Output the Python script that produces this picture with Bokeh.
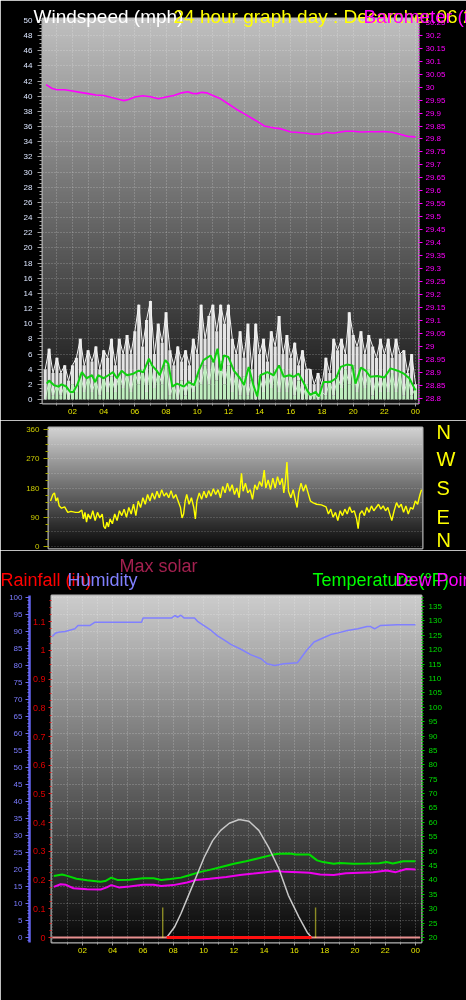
import numpy as np
from bokeh.plotting import figure
from bokeh.models import (Range1d, LinearAxis, SingleIntervalTicker, FixedTicker,
                          Grid, CustomJSTickFormatter)
from bokeh.core.properties import value
from bokeh.embed import file_html
from bokeh.resources import INLINE

FONT = "Liberation Sans"

# ---------------- data ----------------
x_tick_hours = [2, 4, 6, 8, 10, 12, 14, 16, 18, 20, 22, 24]
x_tick_labels = ["02", "04", "06", "08", "10", "12", "14", "16", "18", "20", "22", "00"]
hour_marks = list(range(1, 25))

wind_hours = [round(0.25 * (i + 1), 2) for i in range(96)]
wind_gust = [4, 6.7, 3.5, 5.5, 3.5, 4.5, 2.5, 4.5, 5.5, 8, 4.5, 6.5,
             5, 7, 4, 6.5, 5.5, 8, 4.5, 8, 6, 8.5, 6, 9,
             12.5, 7, 10.5, 13, 6, 10, 7.5, 11.5, 6.5, 4.5, 7, 5,
             6.5, 4.5, 8, 6, 12.5, 8, 11, 12.5, 9, 12.5, 10, 12.5,
             8, 6, 9, 5.5, 10, 4, 10, 6, 8, 5, 9, 7,
             11, 6, 8.5, 5.5, 7.5, 4.5, 6.5, 4, 4, 2, 3.5, 2,
             5.5, 3.5, 8, 6.5, 8, 6, 11.5, 8.5, 7, 9, 6, 8.5,
             7, 5.5, 8, 6, 8, 5.5, 8, 6, 6.5, 3.5, 6, 2]
wind_speed = [0, 2.5, 0.5, 2, 0.5, 2, 0, 2, 1, 3.5, 1, 3,
              1, 2.5, 0.5, 3, 1, 3, 1, 3.5, 1.5, 3.5, 1, 3.5,
              2, 4, 1, 4.5, 1.5, 3.5, 2, 4.5, 0.5, 2, 0, 2.5,
              0.5, 2.5, 1, 3, 2, 4.5, 2, 5, 2.5, 5, 2, 4.5,
              1, 3.5, 0.5, 3, 0.5, 2.5, 0, 3, 1, 3.5, 1.5, 4,
              1, 4, 1, 3.5, 0.5, 2.5, 0, 2, 0, 1, 0, 1,
              0.5, 2.5, 0.5, 3, 1.5, 4, 2, 4.5, 1, 3.5, 1.5, 4,
              0.5, 3, 1, 3, 1, 3.5, 1, 3.5, 0.5, 3, 0.5, 1.5]

avg_hours = [0.35, 0.5, 0.8, 1.1, 1.3, 1.6, 1.85, 2.05, 2.3, 2.6, 2.9, 3.25, 3.45, 3.65,
             4.0, 4.3, 4.6, 4.85, 5.15, 5.5, 5.9, 6.25, 6.55, 6.9, 7.1, 7.4, 7.6, 7.95,
             8.15, 8.4, 8.7, 9.15, 9.45, 9.8, 10.1, 10.4, 10.85, 11.05, 11.3, 11.5, 11.7,
             12.0, 12.35, 12.75, 13.0, 13.3, 13.6, 13.85, 14.05, 14.5, 14.9, 15.25, 15.55,
             15.9, 16.2, 16.5, 16.85, 17.05, 17.25, 17.6, 17.8, 18.1, 18.55, 18.9, 19.2,
             19.6, 19.95, 20.15, 20.5, 20.8, 21.1, 21.55, 22.0, 22.4, 22.85, 23.25, 23.6, 24.0]
avg_mph = [2.1, 2.5, 1.9, 1.7, 2.0, 1.7, 1.0, 1.0, 1.9, 3.6, 2.8, 3.2, 2.3, 3.2,
           2.8, 3.2, 3.6, 2.8, 3.8, 3.2, 3.4, 3.8, 3.6, 5.4, 4.5, 3.8, 3.2, 5.2,
           4.7, 1.7, 2.1, 1.7, 2.3, 1.9, 3.8, 5.2, 5.8, 4.9, 6.7, 3.8, 5.8,
           5.6, 3.8, 2.8, 1.9, 4.3, 1.9, 0.4, 3.2, 3.6, 3.2, 4.5, 3.0,
           3.2, 3.0, 3.4, 2.1, 1.2, 0.6, 1.0, 0.4, 2.3, 2.3, 2.8, 4.3,
           4.6, 4.5, 2.1, 4.2, 3.8, 3.0, 3.1, 2.9, 4.1, 3.8, 3.4, 2.8, 1.2]

pres_hours = [0.3, 0.7, 1.0, 1.5, 2.0, 2.5, 3.0, 3.5, 4.0, 4.5, 5.0, 5.3, 5.6, 6.0, 6.5,
              7.0, 7.5, 8.0, 8.5, 9.0, 9.4, 9.7, 10.0, 10.3, 10.6, 11.0, 11.5, 12.0, 12.5,
              13.0, 13.5, 14.0, 14.3, 14.7, 15.0, 15.3, 15.6, 16.0, 16.5, 17.0, 17.5, 18.0,
              18.3, 18.7, 19.0, 19.5, 20.0, 20.5, 21.0, 21.5, 22.0, 22.5, 23.0, 23.5, 24.0]
pres_inhg = [30.01, 29.995, 29.99, 29.99, 29.985, 29.98, 29.975, 29.97, 29.968, 29.96,
             29.952, 29.948, 29.952, 29.962, 29.967, 29.963, 29.955, 29.962, 29.968, 29.978,
             29.982, 29.976, 29.975, 29.98, 29.978, 29.968, 29.955, 29.935, 29.915, 29.898,
             29.88, 29.862, 29.85, 29.845, 29.842, 29.84, 29.835, 29.827, 29.825, 29.822,
             29.818, 29.82, 29.826, 29.822, 29.825, 29.83, 29.83, 29.827, 29.828, 29.828,
             29.829, 29.826, 29.818, 29.81, 29.808]

dir_hours = [0.3, 0.45, 0.55, 0.65, 0.75, 0.85, 1.0, 1.2, 1.4, 1.6, 1.9, 2.1, 2.3, 2.4, 2.5,
             2.6, 2.7, 2.85, 3.0, 3.15, 3.3, 3.45, 3.6, 3.7, 3.8, 3.9, 4.0, 4.1, 4.25, 4.4,
             4.55, 4.7, 4.85, 5.0, 5.15, 5.3, 5.45, 5.6, 5.75, 5.9, 6.05, 6.2, 6.35, 6.5, 6.65,
             6.8, 6.95, 7.1, 7.25, 7.4, 7.55, 7.7, 7.85, 8.0, 8.15, 8.3, 8.45, 8.6, 8.7, 8.8,
             8.9, 9.0, 9.15, 9.3, 9.45, 9.55, 9.65, 9.8, 9.95, 10.1, 10.25, 10.4, 10.55, 10.7,
             10.85, 11.0, 11.15, 11.3, 11.45, 11.6, 11.75, 11.9, 12.05, 12.2, 12.35, 12.5,
             12.6, 12.75, 12.9, 13.05, 13.2, 13.35, 13.5, 13.65, 13.8, 13.95, 14.05, 14.2,
             14.35, 14.5, 14.65, 14.8, 14.95, 15.1, 15.2, 15.3, 15.4, 15.5, 15.65, 15.8, 15.95,
             16.05, 16.15, 16.3, 16.45, 16.6, 16.75, 16.9, 17.05, 17.3, 17.6, 17.9, 18.05,
             18.2, 18.35, 18.5, 18.65, 18.8, 18.95, 19.1, 19.25, 19.4, 19.55, 19.7, 19.85,
             19.95, 20.05, 20.2, 20.35, 20.5, 20.65, 20.8, 20.95, 21.1, 21.25, 21.4, 21.55,
             21.7, 21.85, 22.0, 22.1, 22.25, 22.4, 22.55, 22.7, 22.85, 23.0, 23.15, 23.3,
             23.45, 23.6, 23.75, 23.9, 24.0]
dir_deg = [140, 160, 165, 140, 150, 125, 118, 122, 105, 108, 105, 105, 112, 85, 105,
           75, 100, 85, 110, 80, 105, 88, 100, 62, 55, 75, 60, 85, 70, 100,
           80, 110, 95, 115, 90, 120, 100, 130, 95, 140, 120, 150, 130, 160, 140,
           165, 145, 170, 150, 175, 155, 165, 150, 172, 148, 160, 140, 120, 88, 100,
           140, 160, 130, 150, 120, 85, 140, 165, 145, 170, 150, 172, 155, 178,
           160, 175, 150, 185, 165, 195, 170, 190, 160, 180, 150, 225,
           170, 195, 165, 175, 145, 190, 175, 200, 185, 235, 180, 205,
           175, 210, 180, 215, 190, 210, 165, 200, 260, 170, 150, 175, 140,
           120, 165, 195, 170, 190, 165, 140, 135, 130, 128, 122, 100,
           115, 90, 105, 80, 110, 95, 115, 100, 122, 105, 110, 85,
           55, 100, 110, 95, 120, 105, 125, 110, 120, 130, 115, 125,
           110, 120, 95, 80, 110, 135, 120, 130, 105, 125, 100, 120,
           115, 140, 130, 160, 175]

hum_hours = [0.0, 0.1, 0.2, 0.4, 0.85, 1.5, 1.7, 2.5, 2.8, 3.7, 5.9, 6.0, 7.9, 8.1, 8.3, 8.5,
             8.7, 9.4, 9.6, 10.0, 10.5, 10.9, 11.4, 11.8, 12.5, 13.1, 13.8, 14.2, 14.7, 15.3,
             16.2, 16.4, 16.8, 17.3, 18.0, 18.4, 18.9, 19.5, 20.2, 20.8, 21.0, 21.3, 21.7,
             22.8, 23.6, 24.0]
hum_pct = [88.5, 89.0, 89.5, 89.8, 90.0, 90.8, 91.8, 91.8, 92.7, 92.7, 92.7, 94.0, 94.0, 94.7,
           94.2, 94.8, 94.0, 94.0, 93.0, 91.8, 90.3, 88.8, 87.4, 86.2, 84.7, 83.2, 82.0, 80.5,
           80.0, 80.5, 80.8, 82.0, 84.4, 86.9, 88.3, 89.1, 89.6, 90.3, 90.8, 91.5, 91.5, 90.8,
           91.8, 92.0, 92.0, 92.0]

temp_hours = [0.1, 0.65, 1.0, 1.6, 2.3, 3.2, 3.5, 3.9, 4.3, 5.1, 6.0, 6.7, 7.2, 7.8, 8.5, 9.1,
              9.8, 10.4, 11.1, 12.0, 12.8, 13.7, 14.6, 15.0, 15.7, 16.1, 17.0, 17.5, 17.9,
              18.6, 19.0, 19.9, 20.8, 21.6, 22.1, 22.5, 23.2, 24.0]
temp_f = [41.4, 41.9, 41.4, 40.4, 39.9, 39.4, 39.6, 40.8, 40.0, 40.1, 40.6, 40.6, 40.0, 40.3,
          40.8, 41.7, 42.8, 43.5, 44.4, 45.6, 46.5, 47.6, 48.8, 49.1, 49.2, 48.8, 48.8, 46.8,
          46.2, 45.6, 45.9, 45.6, 45.7, 45.8, 46.2, 45.7, 46.5, 46.5]

dew_hours = [0.1, 0.55, 0.9, 1.4, 2.3, 3.2, 3.6, 3.9, 4.4, 5.1, 6.0, 6.7, 7.2, 8.0, 8.9, 9.5,
             10.4, 11.5, 12.4, 13.3, 14.1, 14.8, 15.4, 16.3, 17.0, 17.7, 18.6, 19.4, 20.3,
             21.2, 22.1, 22.7, 23.4, 24.0]
dew_f = [37.6, 38.5, 38.3, 37.1, 36.8, 36.7, 37.4, 38.2, 37.4, 37.7, 38.3, 38.3, 37.9, 38.2,
         39.1, 40.0, 40.4, 41.0, 41.7, 42.2, 42.7, 43.1, 42.8, 42.7, 42.5, 41.9, 41.7, 42.3,
         42.5, 42.7, 43.3, 42.7, 43.8, 43.6]

solar_hours = [7.56, 8.07, 8.5, 8.95, 9.5, 10.04, 10.6, 11.13, 11.7, 12.35, 13.0, 13.65,
               14.3, 14.97, 15.6, 16.3, 16.85, 17.13]
solar_wm2 = [0, 30, 70, 118, 177, 236, 285, 315, 336, 347, 342, 315, 265, 203, 124, 60, 15, 0]

rain_hours = [0.0, 24.3]
rain_in = [0.0, 0.0]
rain_day_hours = [7.56, 17.13]
rain_day_in = [0.0, 0.0]
sun_hours = [7.3, 17.4]
sun_mark_in = 0.105

dir_tick_deg = [0, 90, 180, 270, 360]
dir_tick_names = ["N", "E", "S", "W", "N"]

titles = ["Windspeed (mph)", "24 hour graph day : December 06 2", "Barometer (inHg)",
          "Max solar", "Rainfall (in)", "Humidity", "Temperature (°F)", "Dew Point (°F)"]
title_colors = ["#ffffff", "#ffff00", "#ff00ff", "#a3204f", "#ff0000", "#8080ff",
                "#00ff00", "#ff00ff"]


# ---------------- helpers ----------------
def gradient_image(top, bottom, n=256):
    t = np.linspace(0.0, 1.0, n)
    v = (bottom + (top - bottom) * t).astype(np.uint8)
    img = np.empty((n, 1), dtype=np.uint32)
    view = img.view(dtype=np.uint8).reshape((n, 1, 4))
    view[:, 0, 0] = v
    view[:, 0, 1] = v
    view[:, 0, 2] = v
    view[:, 0, 3] = 255
    return img


def add_background(p, top, bottom):
    xs, xe = p.x_range.start, p.x_range.end
    ys, ye = p.y_range.start, p.y_range.end
    p.image_rgba(image=[gradient_image(top, bottom)], x=xs, y=ys, dw=xe - xs, dh=ye - ys,
                 level="image")


def add_grid(p, dim, ticker, alpha=0.35):
    p.add_layout(Grid(dimension=dim, ticker=ticker, grid_line_color="#ffffff",
                      grid_line_alpha=alpha, grid_line_dash="1 2"))


def style_axis(ax, color, tick_color, size="8px", standoff=3, tick_out=3, minor_out=2):
    ax.major_label_text_color = color
    ax.major_label_text_font_size = size
    ax.major_label_text_font = FONT
    ax.axis_line_color = None
    ax.major_tick_line_color = tick_color
    ax.minor_tick_line_color = tick_color
    ax.major_tick_in = 0
    ax.minor_tick_in = 0
    ax.major_tick_out = tick_out
    ax.minor_tick_out = minor_out
    ax.major_label_standoff = standoff


def style_xaxis(ax):
    ax.ticker = FixedTicker(ticks=x_tick_hours, minor_ticks=hour_marks)
    ax.major_label_overrides = dict(zip(x_tick_hours, x_tick_labels))
    style_axis(ax, "#e6e600", "#a0a0a0", standoff=2, tick_out=3, minor_out=2)


trim_fmt = CustomJSTickFormatter(code="return String(Math.round(tick * 100) / 100);")


def base_fig(w, h, xr, yr, bl, br, bt, bb, top_px, **kw):
    p = figure(width=w, height=h, x_range=xr, y_range=yr, output_backend="svg",
               toolbar_location=None, title=None, min_border_left=bl, min_border_right=br,
               min_border_top=bt, min_border_bottom=bb, background_fill_color="black",
               border_fill_color="black", outline_line_color="#b4b4b4",
               outline_line_width=2, **kw)
    p.xgrid.visible = False
    p.ygrid.visible = False
    p.styles = {"position": "fixed", "left": "0px", "top": f"{top_px}px"}
    return p


# ---------------- panel 1 : wind speed + barometer ----------------
f1 = base_fig(466, 420, Range1d(0.076, 24.19), Range1d(-0.53, 50.26), 42, 48, 18, 17, 0)
f1.extra_y_ranges = {"pres": Range1d(28.779, 30.265)}
add_background(f1, 192, 22)
add_grid(f1, 1, SingleIntervalTicker(interval=2))
add_grid(f1, 0, SingleIntervalTicker(interval=1))

f1.yaxis.ticker = SingleIntervalTicker(interval=2, num_minor_ticks=4)
style_axis(f1.yaxis[0], "#dce6ff", "#a0a0a0", standoff=5, tick_out=5, minor_out=3)
style_xaxis(f1.xaxis[0])
pax = LinearAxis(y_range_name="pres", ticker=SingleIntervalTicker(interval=0.05, num_minor_ticks=5),
                 formatter=trim_fmt)
style_axis(pax, "#ff00ff", "#ff00ff", standoff=3, tick_out=4, minor_out=1)
f1.add_layout(pax, "right")

f1.vbar(x=wind_hours, top=wind_gust, bottom=wind_speed, width=0.2,
        fill_color="#e4e4e4", line_color=None)
f1.line(wind_hours, wind_gust, line_color="#f4f4f4", line_width=1)
f1.vbar(x=wind_hours, top=wind_speed, bottom=0, width=0.2,
        fill_color="#bfeebf", line_color=None)
f1.line(wind_hours, wind_speed, line_color="#c8f4c8", line_width=1)
f1.line(avg_hours, avg_mph, line_color="#10d010", line_width=2)
f1.line(pres_hours, pres_inhg, y_range_name="pres", line_color="#ff00ff", line_width=1.6)

# ---------------- panel 2 : wind direction ----------------
f2 = base_fig(466, 130, Range1d(0.17, 24.06), Range1d(-6.2, 366.2), 48, 44, 7, 2, 420,
              x_axis_location=None)
add_background(f2, 210, 8)
add_grid(f2, 1, SingleIntervalTicker(interval=45), alpha=0.3)
f2.yaxis.ticker = SingleIntervalTicker(interval=90, num_minor_ticks=4)
style_axis(f2.yaxis[0], "#cccc00", "#a8a800", standoff=4, tick_out=5, minor_out=3)
lax = LinearAxis(ticker=FixedTicker(ticks=dir_tick_deg),
                 major_label_overrides=dict(zip(dir_tick_deg, dir_tick_names)))
style_axis(lax, "#ffff00", None, size="20px", standoff=14, tick_out=0, minor_out=0)
f2.add_layout(lax, "right")
f2.line(dir_hours, dir_deg, line_color="#ffff00", line_width=1.4)

# ---------------- panel 3 : rain, humidity, temperature ----------------
f3 = base_fig(466, 450, Range1d(-0.05, 24.4), Range1d(-1.47, 100.59), 51, 45, 45, 58, 550,
              y_axis_location=None)
f3.extra_y_ranges = {"rain": Range1d(-0.0174, 1.1916),
                     "temp": Range1d(18.26, 138.83),
                     "solar": Range1d(-14.7, 1005.9)}
add_background(f3, 205, 8)
add_grid(f3, 1, SingleIntervalTicker(interval=5))
add_grid(f3, 0, SingleIntervalTicker(interval=1))
style_xaxis(f3.xaxis[0])

rax = LinearAxis(y_range_name="rain", ticker=SingleIntervalTicker(interval=0.1, num_minor_ticks=4),
                 formatter=trim_fmt)
style_axis(rax, "#dd0000", "#dd2020", size="9px", standoff=3, tick_out=3, minor_out=2)
f3.add_layout(rax, "left")
hax = LinearAxis(ticker=SingleIntervalTicker(interval=5, num_minor_ticks=5))
style_axis(hax, "#7b7bff", "#6a6af0", standoff=3, tick_out=4, minor_out=2)
hax.axis_line_color = "#6464f0"
hax.axis_line_width = 2.5
f3.add_layout(hax, "left")
tax = LinearAxis(y_range_name="temp", ticker=SingleIntervalTicker(interval=5, num_minor_ticks=5))
style_axis(tax, "#00dd00", "#00cc00", standoff=4, tick_out=3, minor_out=2)
f3.add_layout(tax, "right")

f3.line(hum_hours, hum_pct, line_color="#8080ff", line_width=1.5)
f3.line(temp_hours, temp_f, y_range_name="temp", line_color="#00dd00", line_width=2)
f3.line(dew_hours, dew_f, y_range_name="temp", line_color="#ee00ee", line_width=2)
f3.line(solar_hours, solar_wm2, y_range_name="solar", line_color="#c8c8c8", line_width=1.5)
f3.line(rain_hours, rain_in, y_range_name="rain", line_color="#e89090", line_width=2)
f3.line(rain_day_hours, rain_day_in, y_range_name="rain", line_color="#ff1010", line_width=3)
f3.segment(x0=sun_hours, y0=[0, 0], x1=sun_hours, y1=[sun_mark_in, sun_mark_in],
           y_range_name="rain", line_color="#ffff33", line_width=1.4, line_dash="1 1")

# ---------------- text layer (page pixel coordinates) ----------------
tx = figure(width=466, height=1000, x_range=Range1d(0, 466), y_range=Range1d(1000, 0),
            output_backend="svg", toolbar_location=None, title=None,
            x_axis_location=None, y_axis_location=None, min_border=0,
            background_fill_alpha=0, border_fill_alpha=0, outline_line_color=None)
tx.xgrid.visible = False
tx.ygrid.visible = False
tx.styles = {"position": "fixed", "left": "0px", "top": "0px", "z-index": "10",
             "pointer-events": "none"}
title_x = [33, 173, 363, 119, 0, 67, 312, 395]
title_y = [16, 16, 16, 565, 579, 579, 579, 579]
title_size = ["19px", "19px", "19px", "18px", "18px", "18px", "18px", "18px"]
tx.text(x=title_x, y=title_y, text=titles, text_color=title_colors,
        text_font=value(FONT), text_font_size=title_size, text_baseline="alphabetic",
        text_align="left")

open("out.html", "w").write(file_html([f1, f2, f3, tx], INLINE))
